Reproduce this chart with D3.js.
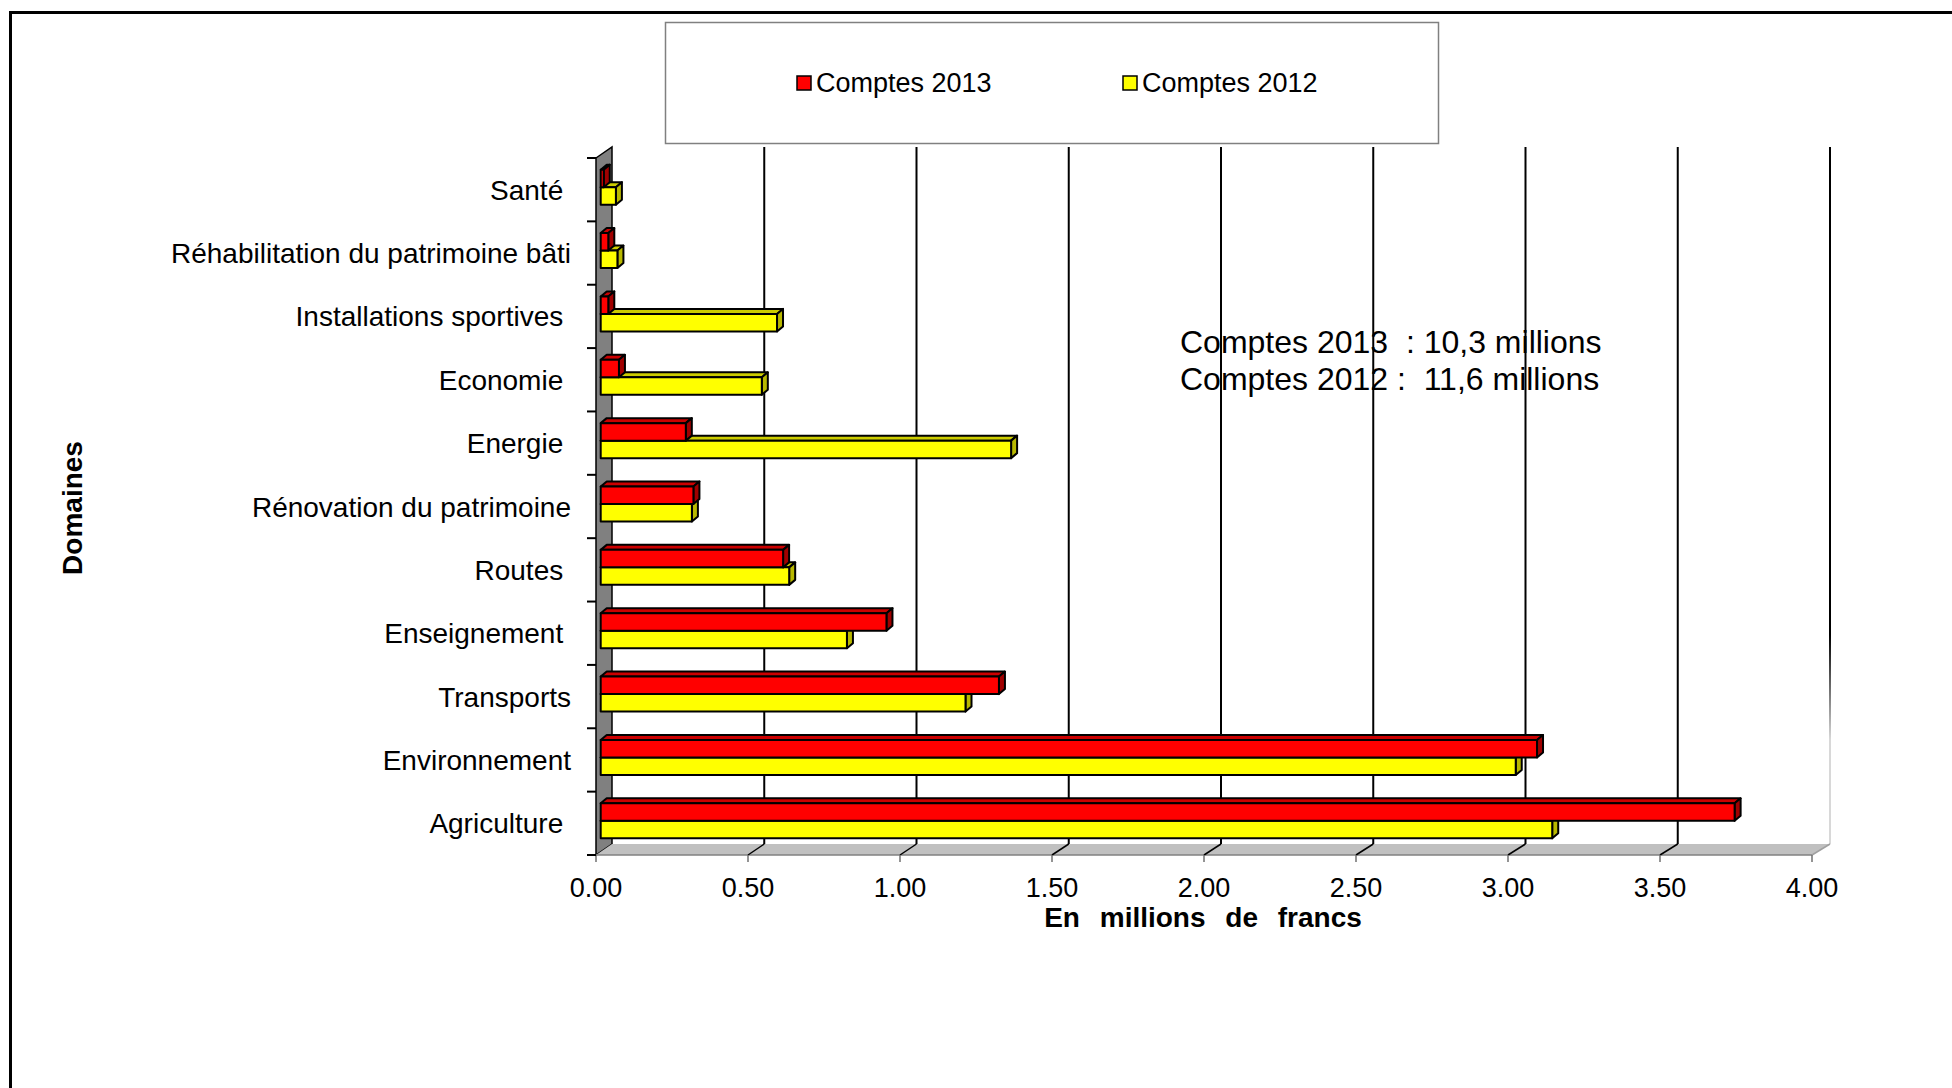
<!DOCTYPE html>
<html lang="fr">
<head>
<meta charset="UTF-8">
<title>Domaines - Comptes 2013 / 2012</title>
<style>
    body {
        margin: 0;
        background: #fff;
    }

    svg {
        display: block;
        font-family: "Liberation Sans", Arial, sans-serif;
    }

    text {
        white-space: pre;
    }
</style>
</head>
<body>
<script src="https://d3js.org/d3.v7.min.js"></script>
<script>
    // Data (millions de francs)
    const categories = ["Santé ", "Réhabilitation du patrimoine bâti", "Installations sportives ", "Economie ",
        "Energie ", "Rénovation du patrimoine", "Routes ", "Enseignement ", "Transports", "Environnement", "Agriculture "];
    const comptes2013 = [0.01, 0.025, 0.025, 0.06, 0.28, 0.305, 0.60, 0.94, 1.31, 3.08, 3.73];
    const comptes2012 = [0.05, 0.055, 0.58, 0.53, 1.35, 0.30, 0.62, 0.81, 1.20, 3.01, 3.13];
    const xTicks = [0, 0.5, 1, 1.5, 2, 2.5, 3, 3.5, 4];
    const seriesNames = ["Comptes 2013", "Comptes 2012"];
    const totals = ["Comptes 2013  : 10,3 millions", "Comptes 2012 :  11,6 millions"];

    const width = 1952;
    const height = 1088;

    const svg = d3.select("body").append("svg")
        .attr("width", width)
        .attr("height", height);

    // gradient for the last (faded) gridline
    const grad = svg.append("defs").append("linearGradient")
        .attr("id", "fade")
        .attr("gradientUnits", "userSpaceOnUse")
        .attr("x1", 0).attr("y1", 147).attr("x2", 0).attr("y2", 844);
    grad.append("stop").attr("offset", "0.7").attr("stop-color", "#000");
    grad.append("stop").attr("offset", "0.85").attr("stop-color", "#d8d8d8");

    // Outer frame (only left and top edges are visible)
    svg.append("path")
        .attr("d", "M10.5," + height + " V12.5 H" + width)
        .attr("fill", "none")
        .attr("stroke", "#000")
        .attr("stroke-width", 3);

    // Front and back planes of the 3D box
    const x = d3.scaleLinear().domain([0, 4]).range([596, 1812]);
    const xBack = d3.scaleLinear().domain([0, 4]).range([612, 1830]);
    const y = d3.scaleBand().domain(categories).range([158, 855]);
    const DY = -11;
    const bw = y.bandwidth();

    // Wall (left side)
    svg.append("polygon")
        .attr("points", [[x(0), 158], [xBack(0), 158 + DY], [xBack(0), 855 + DY], [x(0), 855]].join(" "))
        .attr("fill", "#808080")
        .attr("stroke", "#000")
        .attr("stroke-width", 1.5);

    // Floor
    svg.append("polygon")
        .attr("points", [[x(0), 855], [xBack(0), 855 + DY], [xBack(4), 855 + DY], [x(4), 855]].join(" "))
        .attr("fill", "#c0c0c0");
    svg.append("line")
        .attr("x1", x(0)).attr("x2", x(4))
        .attr("y1", 855).attr("y2", 855)
        .attr("stroke", "#808080").attr("stroke-width", 1.5);

    // Totals text box
    svg.append("g")
        .selectAll("text")
        .data(totals)
        .enter().append("text")
        .attr("x", 1180)
        .attr("y", (d, i) => 353 + i * 37)
        .attr("font-size", 32)
        .text(d => d);

    // Gridlines on back wall + lines across the floor
    const grid = svg.append("g");
    grid.selectAll(".gv")
        .data(xTicks.slice(1))
        .enter().append("line")
        .attr("x1", d => xBack(d)).attr("x2", d => xBack(d))
        .attr("y1", 158 + DY).attr("y2", 855 + DY)
        .attr("stroke", d => d === 4 ? "url(#fade)" : "#000")
        .attr("stroke-width", 2);
    grid.selectAll(".gf")
        .data(xTicks.slice(1))
        .enter().append("line")
        .attr("x1", d => x(d)).attr("x2", d => xBack(d))
        .attr("y1", 855).attr("y2", 855 + DY)
        .attr("stroke", d => d === 4 ? "#a0a0a0" : "#000")
        .attr("stroke-width", 1.5);

    // x ticks and labels
    grid.selectAll(".xt")
        .data(xTicks)
        .enter().append("line")
        .attr("x1", d => x(d)).attr("x2", d => x(d))
        .attr("y1", 855).attr("y2", 862)
        .attr("stroke", "#707070").attr("stroke-width", 1.5);
    svg.append("g")
        .selectAll("text")
        .data(xTicks)
        .enter().append("text")
        .attr("x", d => x(d))
        .attr("y", 897)
        .attr("text-anchor", "middle")
        .attr("font-size", 27)
        .text(d => d3.format(".2f")(d));

    // y ticks on category boundaries
    svg.append("g")
        .selectAll("line")
        .data(d3.range(categories.length + 1))
        .enter().append("line")
        .attr("x1", 587).attr("x2", x(0))
        .attr("y1", i => 158 + i * bw).attr("y2", i => 158 + i * bw)
        .attr("stroke", "#000").attr("stroke-width", 2);

    // Category labels
    svg.append("g")
        .selectAll("text")
        .data(categories)
        .enter().append("text")
        .attr("x", 571)
        .attr("y", d => y(d) + bw / 2 + 10)
        .attr("text-anchor", "end")
        .attr("font-size", 28)
        .text(d => d);

    // 3D bars
    const bx = v => x(v) + 4.7;
    const bar3d = (g, v, yT, yB, front, top, side) => {
        const x0 = bx(0), x1 = bx(v);
        g.append("polygon")
            .attr("points", [[x0, yT], [x1, yT], [x1 + 6, yT - 5], [x0 + 6, yT - 5]].join(" "))
            .attr("fill", top);
        g.append("polygon")
            .attr("points", [[x1, yT], [x1 + 6, yT - 5], [x1 + 6, yB - 5], [x1, yB]].join(" "))
            .attr("fill", side);
        g.append("rect")
            .attr("x", x0).attr("y", yT)
            .attr("width", x1 - x0).attr("height", yB - yT)
            .attr("fill", front);
        g.selectAll("*")
            .attr("stroke", "#000")
            .attr("stroke-width", 2)
            .attr("stroke-linejoin", "round");
    };

    const bars = svg.append("g");
    categories.forEach((c, i) => {
        const mid = y(c) + bw / 2;
        bar3d(bars.append("g"), comptes2012[i], mid - 2.5, mid + 15, "#ffff00", "#cccc00", "#b8b800");
        bar3d(bars.append("g"), comptes2013[i], mid - 20, mid - 2.5, "#ff0000", "#cc0000", "#a00000");
    });

    // Axis titles
    svg.append("text")
        .attr("x", 1203)
        .attr("y", 927)
        .attr("text-anchor", "middle")
        .attr("font-size", 28)
        .attr("font-weight", "bold")
        .attr("word-spacing", 12)
        .text("En millions de francs");

    svg.append("text")
        .attr("transform", "translate(82,508) rotate(-90)")
        .attr("text-anchor", "middle")
        .attr("font-size", 28)
        .attr("font-weight", "bold")
        .text("Domaines");

    // Legend
    const legend = svg.append("g");
    legend.append("rect")
        .attr("x", 665.5).attr("y", 22.5)
        .attr("width", 773).attr("height", 121)
        .attr("fill", "#fff")
        .attr("stroke", "#808080")
        .attr("stroke-width", 1.5);
    const legendX = [797, 1123];
    const legendColors = ["#ff0000", "#ffff00"];
    seriesNames.forEach((name, i) => {
        legend.append("rect")
            .attr("x", legendX[i]).attr("y", 76)
            .attr("width", 14).attr("height", 14)
            .attr("fill", legendColors[i])
            .attr("stroke", "#000")
            .attr("stroke-width", 1.5);
        legend.append("text")
            .attr("x", legendX[i] + 19)
            .attr("y", 92)
            .attr("font-size", 27)
            .text(name);
    });
</script>
</body>
</html>
